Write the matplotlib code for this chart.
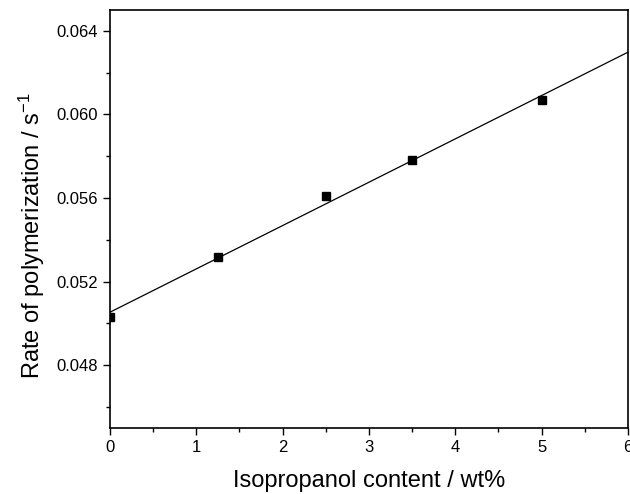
import numpy as np
from matplotlib import pyplot as plt
from matplotlib.ticker import MultipleLocator

plt.rcParams['font.family'] = ['Liberation Sans', 'DejaVu Sans']
plt.rcParams['mathtext.default'] = 'regular'

# isopropanol content (wt%) and rate of polymerization (1/s)
content = [0, 1.25, 2.5, 3.5, 5]
rate = [0.0503, 0.0532, 0.0561, 0.0578, 0.0607]

fig = plt.figure(figsize=(6.3, 4.94), dpi=100)
ax = fig.add_axes([0.1746, 0.1336, 0.8222, 0.8462])

# linear fit through the points
b, a = np.polyfit(content, rate, 1)
xf = np.array([0, 6])
ax.plot(xf, a + b*xf, color='black', lw=0.9)
ax.plot(content, rate, 's', color='black', ms=5.5)

ax.set_xlim(0, 6)
ax.set_ylim(0.045, 0.065)
ax.xaxis.set_major_locator(MultipleLocator(1))
ax.xaxis.set_minor_locator(MultipleLocator(0.5))
ax.yaxis.set_major_locator(MultipleLocator(0.004))
ax.yaxis.set_minor_locator(MultipleLocator(0.002))
ax.yaxis.set_major_formatter(plt.FormatStrFormatter('%.3f'))
ax.tick_params(which='both', direction='out', labelsize=12, width=1)
ax.tick_params(which='major', length=5)
ax.tick_params(which='minor', length=3)
for s in ax.spines.values():
    s.set_linewidth(1.2)

ax.set_xlabel('Isopropanol content / wt%', fontsize=17, labelpad=11)
ax.set_ylabel('Rate of polymerization / s$^{-1}$', fontsize=17)
ax.yaxis.set_label_coords(-0.122, 0.46)

fig.savefig('out.png', dpi=100)
